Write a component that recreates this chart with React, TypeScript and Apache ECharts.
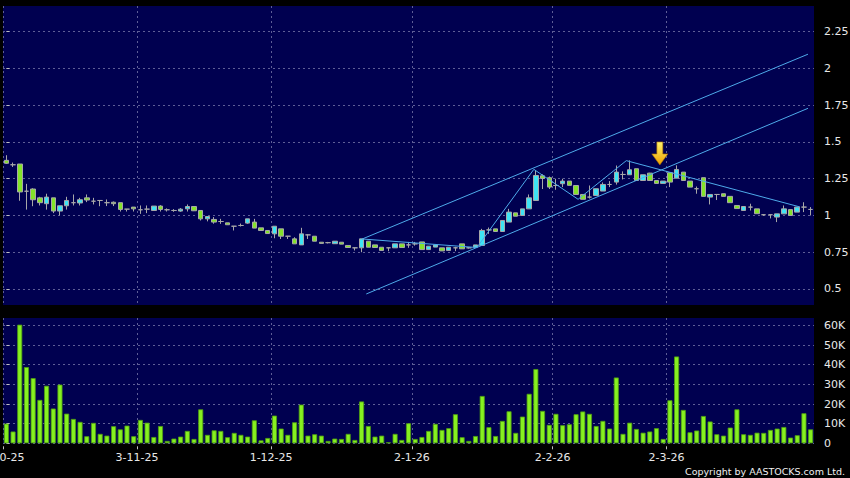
import React, { useEffect, useRef } from "react";
import * as echarts from "echarts";

// Trading days shown (HK), 2 Oct 2025 - 31 Mar 2026
const dates = [
  "2025-10-02","2025-10-03","2025-10-06","2025-10-08","2025-10-09","2025-10-10","2025-10-13","2025-10-14","2025-10-15","2025-10-16",
  "2025-10-17","2025-10-20","2025-10-21","2025-10-22","2025-10-23","2025-10-24","2025-10-27","2025-10-28","2025-10-30","2025-10-31",
  "2025-11-03","2025-11-04","2025-11-05","2025-11-06","2025-11-07","2025-11-10","2025-11-11","2025-11-12","2025-11-13","2025-11-14",
  "2025-11-17","2025-11-18","2025-11-19","2025-11-20","2025-11-21","2025-11-24","2025-11-25","2025-11-26","2025-11-27","2025-11-28",
  "2025-12-01","2025-12-02","2025-12-03","2025-12-04","2025-12-05","2025-12-08","2025-12-09","2025-12-10","2025-12-11","2025-12-12",
  "2025-12-15","2025-12-16","2025-12-17","2025-12-18","2025-12-19","2025-12-22","2025-12-23","2025-12-24","2025-12-29","2025-12-30",
  "2025-12-31","2026-01-02","2026-01-05","2026-01-06","2026-01-07","2026-01-08","2026-01-09","2026-01-12","2026-01-13","2026-01-14",
  "2026-01-15","2026-01-16","2026-01-19","2026-01-20","2026-01-21","2026-01-22","2026-01-23","2026-01-26","2026-01-27","2026-01-28",
  "2026-01-29","2026-01-30","2026-02-02","2026-02-03","2026-02-04","2026-02-05","2026-02-06","2026-02-09","2026-02-10","2026-02-11",
  "2026-02-12","2026-02-13","2026-02-16","2026-02-20","2026-02-23","2026-02-24","2026-02-25","2026-02-26","2026-02-27","2026-03-02",
  "2026-03-03","2026-03-04","2026-03-05","2026-03-06","2026-03-09","2026-03-10","2026-03-11","2026-03-12","2026-03-13","2026-03-16",
  "2026-03-17","2026-03-18","2026-03-19","2026-03-20","2026-03-23","2026-03-24","2026-03-25","2026-03-26","2026-03-27","2026-03-30",
  "2026-03-31",
];

const opens = [
  1.375,1.345,1.35,1.165,1.18,1.12,1.08,1.12,1.03,1.066,
  1.087,1.085,1.12,1.097,1.102,1.087,1.09,1.087,1.043,1.057,
  1.039,1.043,1.034,1.064,1.039,1.034,1.03,1.045,1.061,1.034,
  0.977,0.973,0.959,0.95,0.927,0.932,0.948,0.955,0.916,0.898,
  0.875,0.909,0.859,0.841,0.80,0.868,0.859,0.818,0.815,0.808,
  0.818,0.796,0.78,0.78,0.825,0.80,0.784,0.78,0.78,0.807,
  0.80,0.807,0.82,0.768,0.785,0.78,0.762,0.78,0.807,0.78,
  0.784,0.796,0.902,0.909,0.891,0.955,1.018,1.0,1.045,1.102,
  1.27,1.257,1.204,1.216,1.234,1.204,1.143,1.125,1.136,1.166,
  1.211,1.227,1.279,1.277,1.318,1.238,1.288,1.238,1.218,1.291,
  1.254,1.295,1.234,1.182,1.257,1.125,1.143,1.148,1.13,1.068,
  1.034,1.057,1.045,1.005,1.005,0.989,1.011,1.04,1.023,1.057,
  1.041,
];

const closes = [
  1.355,1.345,1.16,1.165,1.107,1.087,1.125,1.03,1.066,1.102,
  1.087,1.107,1.105,1.097,1.102,1.087,1.08,1.041,1.043,1.045,
  1.039,1.043,1.064,1.041,1.039,1.034,1.043,1.061,1.032,0.977,
  0.993,0.955,0.959,0.937,0.927,0.932,0.977,0.914,0.898,0.877,
  0.927,0.859,0.859,0.807,0.875,0.868,0.825,0.81,0.815,0.825,
  0.805,0.782,0.78,0.841,0.784,0.782,0.762,0.78,0.807,0.782,
  0.80,0.807,0.768,0.791,0.80,0.759,0.784,0.78,0.773,0.78,
  0.80,0.898,0.902,0.891,0.966,1.023,0.995,1.045,1.12,1.272,
  1.252,1.193,1.204,1.234,1.205,1.143,1.11,1.125,1.182,1.211,
  1.211,1.295,1.279,1.311,1.238,1.277,1.238,1.218,1.234,1.227,
  1.313,1.238,1.193,1.182,1.13,1.143,1.143,1.13,1.087,1.047,
  1.061,1.057,1.012,1.005,1.005,1.011,1.045,1.0,1.057,1.057,
  1.041,
];

const lows = [
  1.35,1.33,1.10,1.04,1.063,1.068,1.04,1.016,1.0,1.04,
  1.068,1.068,1.091,1.075,1.063,1.064,1.064,1.027,1.027,1.027,
  1.011,1.016,1.034,1.027,1.027,1.025,1.025,1.027,1.03,0.966,
  0.96,0.944,0.943,0.937,0.898,0.925,0.943,0.914,0.898,0.877,
  0.845,0.84,0.84,0.807,0.80,0.84,0.825,0.81,0.81,0.808,
  0.805,0.782,0.762,0.75,0.784,0.782,0.762,0.757,0.78,0.782,
  0.78,0.795,0.768,0.768,0.785,0.759,0.762,0.757,0.773,0.775,
  0.78,0.796,0.875,0.891,0.891,0.955,0.995,1.0,1.045,1.102,
  1.18,1.18,1.175,1.193,1.205,1.143,1.11,1.115,1.136,1.166,
  1.193,1.21,1.245,1.277,1.238,1.238,1.238,1.218,1.218,1.193,
  1.254,1.238,1.193,1.148,1.13,1.075,1.105,1.13,1.087,1.047,
  1.034,1.034,1.012,0.998,0.98,0.955,1.011,1.0,1.023,1.023,
  1.0,
];

const highs = [
  1.41,1.36,1.35,1.215,1.185,1.127,1.148,1.12,1.066,1.127,
  1.143,1.12,1.143,1.12,1.105,1.109,1.095,1.087,1.043,1.057,
  1.068,1.068,1.064,1.07,1.048,1.043,1.05,1.075,1.061,1.034,
  0.995,0.989,0.977,0.95,0.927,0.945,0.977,0.977,0.916,0.898,
  0.927,0.909,0.859,0.852,0.916,0.872,0.859,0.818,0.82,0.825,
  0.818,0.796,0.78,0.841,0.825,0.80,0.784,0.78,0.807,0.807,
  0.82,0.82,0.82,0.791,0.80,0.78,0.784,0.787,0.807,0.785,
  0.80,0.909,0.918,0.909,0.966,1.045,1.018,1.045,1.143,1.306,
  1.28,1.265,1.25,1.25,1.234,1.204,1.143,1.204,1.182,1.225,
  1.234,1.34,1.30,1.375,1.318,1.277,1.29,1.238,1.234,1.291,
  1.341,1.295,1.234,1.197,1.257,1.143,1.143,1.148,1.13,1.068,
  1.061,1.08,1.045,1.01,1.005,1.011,1.068,1.04,1.057,1.09,
  1.057,
];

// volume in thousands of shares
const volumesK = [
  10.0,6.0,60.4,38.8,33.2,22.1,29.3,17.7,29.9,15.1,
  12.4,10.9,3.6,10.4,4.8,3.9,8.7,7.1,9.0,3.6,
  11.9,10.5,3.2,8.8,1.2,2.4,3.4,6.3,2.2,17.3,
  4.3,6.6,6.3,3.1,5.3,4.3,3.4,11.7,1.5,2.7,
  14.1,7.5,4.3,10.7,19.7,3.9,4.6,3.9,1.2,2.4,
  2.2,4.8,1.7,21.3,8.8,3.4,3.9,0.5,4.8,1.7,
  10.2,2.2,3.2,6.3,9.9,6.8,7.7,14.8,3.1,1.2,
  3.7,24.1,8.2,3.7,11.4,16.3,5.3,13.6,25.2,37.8,
  16.5,9.4,15.0,9.2,9.7,14.8,16.2,15.0,8.8,11.4,
  7.5,33.5,4.8,10.5,7.3,5.4,6.0,7.7,2.2,21.9,
  44.2,17.0,5.6,6.5,13.9,11.1,4.6,3.9,8.0,17.3,
  4.6,4.3,5.4,5.3,6.8,7.5,8.3,2.9,4.1,15.3,
  7.1,
];

// first trading day of each month (index into dates) and its label
const monthTickIndex = [0, 20, 40, 61, 82, 99];
const monthTickLabels = ["2-10-25", "3-11-25", "1-12-25", "2-1-26", "2-2-26", "2-3-26"];

const priceTicks = [0.5, 0.75, 1, 1.25, 1.5, 1.75, 2, 2.25];
const volumeTicksK = [0, 10, 20, 30, 40, 50, 60];

// drawn trend lines: [bar index, price]
const upperChannel = [[53.1, 0.84], [119.6, 2.097]];
const lowerChannel = [[53.7, 0.466], [119.6, 1.729]];
const zigzag = [[53.1, 0.84], [70.2, 0.782], [78.7, 1.314], [85.3, 1.11], [92.5, 1.373], [118.4, 1.058]];
const arrowAt = [97.5, 1.344];

const NAVY = "#000050";
const GRID_LINE = { color: "#5e5e96", type: [2, 3] as any, width: 1 };
const UP = "#3ee4f4";
const DOWN = "#84e32a";
const WICK = "#a8a8a8";
const TREND = "#4eaaea";
const LABEL = "#e8e8e8";
const FONT = "DejaVu Sans";

export default function App() {
  const ref = useRef<HTMLDivElement>(null);

  useEffect(() => {
    if (!ref.current) return;
    const chart = echarts.init(ref.current, undefined, { renderer: "svg" });

    const boundaries = monthTickIndex.map((i) => i - 0.5);
    const boundaryLabel = (v: number) => {
      const k = monthTickIndex.indexOf(Math.round(v + 0.5));
      return k >= 0 ? monthTickLabels[k] : "";
    };

    const candleData = dates.map((_, i) => [opens[i], closes[i], lows[i], highs[i]]);

    const trendLine = (data: number[][], extra: any = {}) => ({
      type: "line",
      xAxisIndex: 1,
      yAxisIndex: 0,
      data,
      symbol: "none",
      silent: true,
      z: 5,
      lineStyle: { color: TREND, width: 1 },
      ...extra,
    });

    chart.setOption({
      animation: false,
      backgroundColor: "#000000",
      textStyle: { fontFamily: FONT },
      grid: [
        {
          left: 3, right: 36, top: 6, height: 299,
          show: true, backgroundColor: NAVY, borderWidth: 0,
          containLabel: false, outerBoundsMode: "none",
        },
        {
          left: 3, right: 36, top: 318, height: 125.3,
          show: true, backgroundColor: NAVY, borderWidth: 0,
          containLabel: false, outerBoundsMode: "none",
        },
      ],
      xAxis: [
        { type: "category", gridIndex: 0, data: dates, boundaryGap: true, show: false },
        {
          type: "value",
          gridIndex: 0,
          min: -0.5,
          max: 120.5,
          position: "bottom",
          axisLine: { show: false },
          axisTick: { show: false, customValues: boundaries },
          axisLabel: { show: false, customValues: boundaries },
          splitLine: { show: true, lineStyle: GRID_LINE },
        },
        { type: "category", gridIndex: 1, data: dates, boundaryGap: true, show: false },
        {
          type: "value",
          gridIndex: 1,
          min: -0.5,
          max: 120.5,
          position: "bottom",
          offset: 3,
          axisLine: { show: false },
          axisTick: { show: true, length: 3, customValues: boundaries, lineStyle: { color: "#c0c0c0" } },
          axisLabel: {
            customValues: boundaries,
            formatter: boundaryLabel,
            color: LABEL,
            fontSize: 11,
            fontFamily: FONT,
            margin: 6,
            hideOverlap: false,
          },
          splitLine: { show: true, lineStyle: GRID_LINE },
        },
      ],
      yAxis: [
        {
          type: "value",
          gridIndex: 0,
          position: "right",
          min: 0.391,
          max: 2.425,
          offset: 4,
          axisLine: { show: false },
          axisTick: { show: true, length: 3, customValues: priceTicks, lineStyle: { color: "#c0c0c0" } },
          axisLabel: { customValues: priceTicks, color: LABEL, fontSize: 11, fontFamily: FONT, margin: 6 },
          splitLine: { show: true, lineStyle: GRID_LINE },
        },
        {
          type: "value",
          gridIndex: 1,
          position: "right",
          min: 0,
          max: 63.8,
          offset: 4,
          axisLine: { show: false },
          axisTick: { show: true, length: 3, customValues: volumeTicksK, lineStyle: { color: "#c0c0c0" } },
          axisLabel: {
            customValues: volumeTicksK,
            formatter: (v: number) => (v === 0 ? "0" : v + "K"),
            color: LABEL,
            fontSize: 11,
            fontFamily: FONT,
            margin: 6,
          },
          splitLine: { show: true, lineStyle: GRID_LINE },
        },
      ],
      series: [
        {
          type: "candlestick",
          xAxisIndex: 0,
          yAxisIndex: 0,
          data: candleData,
          barWidth: 5,
          z: 3,
          itemStyle: {
            color: UP,
            color0: DOWN,
            borderColor: WICK,
            borderColor0: WICK,
            borderColorDoji: WICK,
            borderWidth: 1,
          },
        },
        {
          type: "bar",
          xAxisIndex: 2,
          yAxisIndex: 1,
          data: volumesK,
          barWidth: 5,
          itemStyle: { color: "#86f020", borderColor: "#4f9e12", borderWidth: 0.8 },
        },
        trendLine(upperChannel),
        trendLine(lowerChannel),
        trendLine(zigzag, {
          markPoint: {
            silent: true,
            data: [
              {
                coord: arrowAt,
                symbol: "path://M5,0L11,0L11,12L16,12L8,23L0,12L5,12Z",
                symbolSize: [16, 23],
                symbolOffset: [0, -11.5],
                label: { show: false },
                itemStyle: {
                  color: new echarts.graphic.LinearGradient(0, 0, 0, 1, [
                    { offset: 0, color: "#fff46c" },
                    { offset: 1, color: "#eea000" },
                  ]),
                  borderColor: "#a86a00",
                  borderWidth: 0.6,
                },
              },
            ],
          },
        }),
      ],
      graphic: [
        {
          type: "text",
          right: 5,
          top: 466,
          style: {
            text: "Copyright by AASTOCKS.com Ltd.",
            fill: "#f0f0f0",
            font: `9.5px "${FONT}"`,
          },
        },
      ],
    });

    return () => chart.dispose();
  }, []);

  return (
    <div
      ref={ref}
      style={{ position: "fixed", left: 0, top: 0, width: 850, height: 478, background: "#000" }}
    />
  );
}
